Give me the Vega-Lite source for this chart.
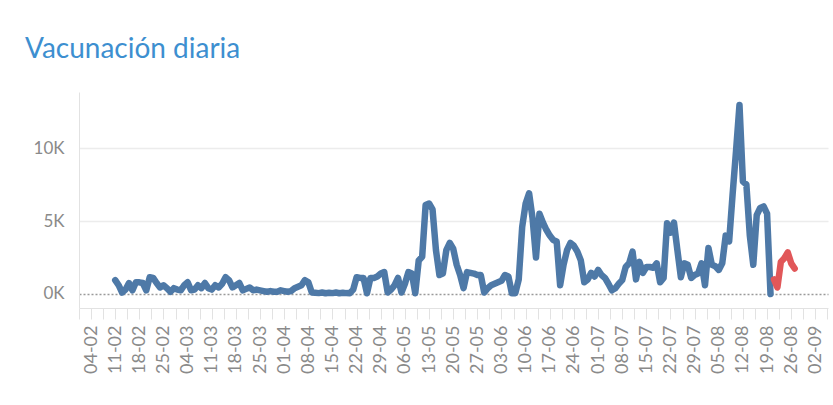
{
  "$schema": "https://vega.github.io/schema/vega-lite/v6.json",
  "autosize": {"type": "none"},
  "width": 749,
  "height": 216,
  "padding": {"left": 79, "top": 92, "right": 5, "bottom": 97},
  "background": "white",
  "title": {"text": "Vacunación diaria", "anchor": "start", "frame": "group", "dx": -54, "offset": 28, "font": "Lato", "fontSize": 28, "fontWeight": "normal", "color": "#3d8fd0"},
  "data": {"values": [
    {"date": "2021-02-11", "v": 950, "s": "a"},
    {"date": "2021-02-12", "v": 600, "s": "a"},
    {"date": "2021-02-13", "v": 100, "s": "a"},
    {"date": "2021-02-14", "v": 300, "s": "a"},
    {"date": "2021-02-15", "v": 750, "s": "a"},
    {"date": "2021-02-16", "v": 250, "s": "a"},
    {"date": "2021-02-17", "v": 800, "s": "a"},
    {"date": "2021-02-18", "v": 800, "s": "a"},
    {"date": "2021-02-19", "v": 750, "s": "a"},
    {"date": "2021-02-20", "v": 250, "s": "a"},
    {"date": "2021-02-21", "v": 1150, "s": "a"},
    {"date": "2021-02-22", "v": 1100, "s": "a"},
    {"date": "2021-02-23", "v": 750, "s": "a"},
    {"date": "2021-02-24", "v": 450, "s": "a"},
    {"date": "2021-02-25", "v": 600, "s": "a"},
    {"date": "2021-02-26", "v": 400, "s": "a"},
    {"date": "2021-02-27", "v": 150, "s": "a"},
    {"date": "2021-02-28", "v": 400, "s": "a"},
    {"date": "2021-03-01", "v": 300, "s": "a"},
    {"date": "2021-03-02", "v": 250, "s": "a"},
    {"date": "2021-03-03", "v": 600, "s": "a"},
    {"date": "2021-03-04", "v": 800, "s": "a"},
    {"date": "2021-03-05", "v": 250, "s": "a"},
    {"date": "2021-03-06", "v": 300, "s": "a"},
    {"date": "2021-03-07", "v": 600, "s": "a"},
    {"date": "2021-03-08", "v": 400, "s": "a"},
    {"date": "2021-03-09", "v": 750, "s": "a"},
    {"date": "2021-03-10", "v": 400, "s": "a"},
    {"date": "2021-03-11", "v": 300, "s": "a"},
    {"date": "2021-03-12", "v": 600, "s": "a"},
    {"date": "2021-03-13", "v": 450, "s": "a"},
    {"date": "2021-03-14", "v": 700, "s": "a"},
    {"date": "2021-03-15", "v": 1150, "s": "a"},
    {"date": "2021-03-16", "v": 950, "s": "a"},
    {"date": "2021-03-17", "v": 450, "s": "a"},
    {"date": "2021-03-18", "v": 600, "s": "a"},
    {"date": "2021-03-19", "v": 750, "s": "a"},
    {"date": "2021-03-20", "v": 250, "s": "a"},
    {"date": "2021-03-21", "v": 350, "s": "a"},
    {"date": "2021-03-22", "v": 450, "s": "a"},
    {"date": "2021-03-23", "v": 250, "s": "a"},
    {"date": "2021-03-24", "v": 300, "s": "a"},
    {"date": "2021-03-25", "v": 250, "s": "a"},
    {"date": "2021-03-26", "v": 200, "s": "a"},
    {"date": "2021-03-27", "v": 150, "s": "a"},
    {"date": "2021-03-28", "v": 200, "s": "a"},
    {"date": "2021-03-29", "v": 150, "s": "a"},
    {"date": "2021-03-30", "v": 150, "s": "a"},
    {"date": "2021-03-31", "v": 250, "s": "a"},
    {"date": "2021-04-01", "v": 200, "s": "a"},
    {"date": "2021-04-02", "v": 150, "s": "a"},
    {"date": "2021-04-03", "v": 200, "s": "a"},
    {"date": "2021-04-04", "v": 400, "s": "a"},
    {"date": "2021-04-05", "v": 500, "s": "a"},
    {"date": "2021-04-06", "v": 600, "s": "a"},
    {"date": "2021-04-07", "v": 950, "s": "a"},
    {"date": "2021-04-08", "v": 800, "s": "a"},
    {"date": "2021-04-09", "v": 100, "s": "a"},
    {"date": "2021-04-10", "v": 80, "s": "a"},
    {"date": "2021-04-11", "v": 60, "s": "a"},
    {"date": "2021-04-12", "v": 100, "s": "a"},
    {"date": "2021-04-13", "v": 50, "s": "a"},
    {"date": "2021-04-14", "v": 80, "s": "a"},
    {"date": "2021-04-15", "v": 60, "s": "a"},
    {"date": "2021-04-16", "v": 100, "s": "a"},
    {"date": "2021-04-17", "v": 50, "s": "a"},
    {"date": "2021-04-18", "v": 80, "s": "a"},
    {"date": "2021-04-19", "v": 60, "s": "a"},
    {"date": "2021-04-20", "v": 50, "s": "a"},
    {"date": "2021-04-21", "v": 300, "s": "a"},
    {"date": "2021-04-22", "v": 1150, "s": "a"},
    {"date": "2021-04-23", "v": 1100, "s": "a"},
    {"date": "2021-04-24", "v": 1100, "s": "a"},
    {"date": "2021-04-25", "v": 50, "s": "a"},
    {"date": "2021-04-26", "v": 1100, "s": "a"},
    {"date": "2021-04-27", "v": 1100, "s": "a"},
    {"date": "2021-04-28", "v": 1200, "s": "a"},
    {"date": "2021-04-29", "v": 1400, "s": "a"},
    {"date": "2021-04-30", "v": 1500, "s": "a"},
    {"date": "2021-05-01", "v": 100, "s": "a"},
    {"date": "2021-05-02", "v": 300, "s": "a"},
    {"date": "2021-05-03", "v": 600, "s": "a"},
    {"date": "2021-05-04", "v": 1100, "s": "a"},
    {"date": "2021-05-05", "v": 100, "s": "a"},
    {"date": "2021-05-06", "v": 700, "s": "a"},
    {"date": "2021-05-07", "v": 1500, "s": "a"},
    {"date": "2021-05-08", "v": 1400, "s": "a"},
    {"date": "2021-05-09", "v": 50, "s": "a"},
    {"date": "2021-05-10", "v": 2300, "s": "a"},
    {"date": "2021-05-11", "v": 2550, "s": "a"},
    {"date": "2021-05-12", "v": 6100, "s": "a"},
    {"date": "2021-05-13", "v": 6200, "s": "a"},
    {"date": "2021-05-14", "v": 5800, "s": "a"},
    {"date": "2021-05-15", "v": 3000, "s": "a"},
    {"date": "2021-05-16", "v": 1300, "s": "a"},
    {"date": "2021-05-17", "v": 1400, "s": "a"},
    {"date": "2021-05-18", "v": 3000, "s": "a"},
    {"date": "2021-05-19", "v": 3500, "s": "a"},
    {"date": "2021-05-20", "v": 3100, "s": "a"},
    {"date": "2021-05-21", "v": 2000, "s": "a"},
    {"date": "2021-05-22", "v": 1300, "s": "a"},
    {"date": "2021-05-23", "v": 400, "s": "a"},
    {"date": "2021-05-24", "v": 1500, "s": "a"},
    {"date": "2021-05-25", "v": 1450, "s": "a"},
    {"date": "2021-05-26", "v": 1400, "s": "a"},
    {"date": "2021-05-27", "v": 1300, "s": "a"},
    {"date": "2021-05-28", "v": 1300, "s": "a"},
    {"date": "2021-05-29", "v": 100, "s": "a"},
    {"date": "2021-05-30", "v": 400, "s": "a"},
    {"date": "2021-05-31", "v": 600, "s": "a"},
    {"date": "2021-06-01", "v": 700, "s": "a"},
    {"date": "2021-06-02", "v": 800, "s": "a"},
    {"date": "2021-06-03", "v": 900, "s": "a"},
    {"date": "2021-06-04", "v": 1300, "s": "a"},
    {"date": "2021-06-05", "v": 1200, "s": "a"},
    {"date": "2021-06-06", "v": 50, "s": "a"},
    {"date": "2021-06-07", "v": 50, "s": "a"},
    {"date": "2021-06-08", "v": 1000, "s": "a"},
    {"date": "2021-06-09", "v": 4600, "s": "a"},
    {"date": "2021-06-10", "v": 6200, "s": "a"},
    {"date": "2021-06-11", "v": 6900, "s": "a"},
    {"date": "2021-06-12", "v": 5200, "s": "a"},
    {"date": "2021-06-13", "v": 2500, "s": "a"},
    {"date": "2021-06-14", "v": 5500, "s": "a"},
    {"date": "2021-06-15", "v": 4900, "s": "a"},
    {"date": "2021-06-16", "v": 4400, "s": "a"},
    {"date": "2021-06-17", "v": 4000, "s": "a"},
    {"date": "2021-06-18", "v": 3700, "s": "a"},
    {"date": "2021-06-19", "v": 3600, "s": "a"},
    {"date": "2021-06-20", "v": 600, "s": "a"},
    {"date": "2021-06-21", "v": 2000, "s": "a"},
    {"date": "2021-06-22", "v": 3000, "s": "a"},
    {"date": "2021-06-23", "v": 3500, "s": "a"},
    {"date": "2021-06-24", "v": 3300, "s": "a"},
    {"date": "2021-06-25", "v": 2900, "s": "a"},
    {"date": "2021-06-26", "v": 2300, "s": "a"},
    {"date": "2021-06-27", "v": 800, "s": "a"},
    {"date": "2021-06-28", "v": 1000, "s": "a"},
    {"date": "2021-06-29", "v": 1450, "s": "a"},
    {"date": "2021-06-30", "v": 1200, "s": "a"},
    {"date": "2021-07-01", "v": 1650, "s": "a"},
    {"date": "2021-07-02", "v": 1300, "s": "a"},
    {"date": "2021-07-03", "v": 1100, "s": "a"},
    {"date": "2021-07-04", "v": 700, "s": "a"},
    {"date": "2021-07-05", "v": 250, "s": "a"},
    {"date": "2021-07-06", "v": 400, "s": "a"},
    {"date": "2021-07-07", "v": 700, "s": "a"},
    {"date": "2021-07-08", "v": 950, "s": "a"},
    {"date": "2021-07-09", "v": 1850, "s": "a"},
    {"date": "2021-07-10", "v": 2100, "s": "a"},
    {"date": "2021-07-11", "v": 2900, "s": "a"},
    {"date": "2021-07-12", "v": 1000, "s": "a"},
    {"date": "2021-07-13", "v": 2200, "s": "a"},
    {"date": "2021-07-14", "v": 1450, "s": "a"},
    {"date": "2021-07-15", "v": 1850, "s": "a"},
    {"date": "2021-07-16", "v": 1850, "s": "a"},
    {"date": "2021-07-17", "v": 1800, "s": "a"},
    {"date": "2021-07-18", "v": 2100, "s": "a"},
    {"date": "2021-07-19", "v": 800, "s": "a"},
    {"date": "2021-07-20", "v": 1100, "s": "a"},
    {"date": "2021-07-21", "v": 4850, "s": "a"},
    {"date": "2021-07-22", "v": 4200, "s": "a"},
    {"date": "2021-07-23", "v": 4900, "s": "a"},
    {"date": "2021-07-24", "v": 3000, "s": "a"},
    {"date": "2021-07-25", "v": 1150, "s": "a"},
    {"date": "2021-07-26", "v": 2100, "s": "a"},
    {"date": "2021-07-27", "v": 2000, "s": "a"},
    {"date": "2021-07-28", "v": 1100, "s": "a"},
    {"date": "2021-07-29", "v": 1300, "s": "a"},
    {"date": "2021-07-30", "v": 1400, "s": "a"},
    {"date": "2021-07-31", "v": 2100, "s": "a"},
    {"date": "2021-08-01", "v": 600, "s": "a"},
    {"date": "2021-08-02", "v": 3150, "s": "a"},
    {"date": "2021-08-03", "v": 2000, "s": "a"},
    {"date": "2021-08-04", "v": 1900, "s": "a"},
    {"date": "2021-08-05", "v": 1650, "s": "a"},
    {"date": "2021-08-06", "v": 2100, "s": "a"},
    {"date": "2021-08-07", "v": 4000, "s": "a"},
    {"date": "2021-08-08", "v": 3600, "s": "a"},
    {"date": "2021-08-09", "v": 6800, "s": "a"},
    {"date": "2021-08-10", "v": 9800, "s": "a"},
    {"date": "2021-08-11", "v": 12950, "s": "a"},
    {"date": "2021-08-12", "v": 7700, "s": "a"},
    {"date": "2021-08-13", "v": 7500, "s": "a"},
    {"date": "2021-08-14", "v": 4000, "s": "a"},
    {"date": "2021-08-15", "v": 2000, "s": "a"},
    {"date": "2021-08-16", "v": 5400, "s": "a"},
    {"date": "2021-08-17", "v": 5900, "s": "a"},
    {"date": "2021-08-18", "v": 6000, "s": "a"},
    {"date": "2021-08-19", "v": 5500, "s": "a"},
    {"date": "2021-08-20", "v": 0, "s": "a"},
    {"date": "2021-08-21", "v": 1000, "s": "b"},
    {"date": "2021-08-22", "v": 450, "s": "b"},
    {"date": "2021-08-23", "v": 2200, "s": "b"},
    {"date": "2021-08-24", "v": 2450, "s": "b"},
    {"date": "2021-08-25", "v": 2850, "s": "b"},
    {"date": "2021-08-26", "v": 2100, "s": "b"},
    {"date": "2021-08-27", "v": 1750, "s": "b"}
  ]},
  "mark": {"type": "line", "strokeWidth": 6.5, "strokeCap": "round", "strokeJoin": "round"},
  "encoding": {
    "x": {
      "field": "date",
      "type": "temporal",
      "scale": {"type": "utc", "domain": [
        {"year": 2021, "month": 1, "date": 31, "hours": 12, "utc": true},
        {"year": 2021, "month": 9, "date": 5, "hours": 16, "utc": true}
      ]},
      "axis": {
        "title": null,
        "labelExpr": "utchours(datum.value) === 12 ? '' : utcFormat(datum.value, '%d-%m')",
        "values": [
          {"year": 2021, "month": 1, "date": 31, "hours": 12, "utc": true},
          {"year": 2021, "month": 2, "date": 4, "utc": true},
          {"year": 2021, "month": 2, "date": 7, "hours": 12, "utc": true},
          {"year": 2021, "month": 2, "date": 11, "utc": true},
          {"year": 2021, "month": 2, "date": 14, "hours": 12, "utc": true},
          {"year": 2021, "month": 2, "date": 18, "utc": true},
          {"year": 2021, "month": 2, "date": 21, "hours": 12, "utc": true},
          {"year": 2021, "month": 2, "date": 25, "utc": true},
          {"year": 2021, "month": 2, "date": 28, "hours": 12, "utc": true},
          {"year": 2021, "month": 3, "date": 4, "utc": true},
          {"year": 2021, "month": 3, "date": 7, "hours": 12, "utc": true},
          {"year": 2021, "month": 3, "date": 11, "utc": true},
          {"year": 2021, "month": 3, "date": 14, "hours": 12, "utc": true},
          {"year": 2021, "month": 3, "date": 18, "utc": true},
          {"year": 2021, "month": 3, "date": 21, "hours": 12, "utc": true},
          {"year": 2021, "month": 3, "date": 25, "utc": true},
          {"year": 2021, "month": 3, "date": 28, "hours": 12, "utc": true},
          {"year": 2021, "month": 4, "date": 1, "utc": true},
          {"year": 2021, "month": 4, "date": 4, "hours": 12, "utc": true},
          {"year": 2021, "month": 4, "date": 8, "utc": true},
          {"year": 2021, "month": 4, "date": 11, "hours": 12, "utc": true},
          {"year": 2021, "month": 4, "date": 15, "utc": true},
          {"year": 2021, "month": 4, "date": 18, "hours": 12, "utc": true},
          {"year": 2021, "month": 4, "date": 22, "utc": true},
          {"year": 2021, "month": 4, "date": 25, "hours": 12, "utc": true},
          {"year": 2021, "month": 4, "date": 29, "utc": true},
          {"year": 2021, "month": 5, "date": 2, "hours": 12, "utc": true},
          {"year": 2021, "month": 5, "date": 6, "utc": true},
          {"year": 2021, "month": 5, "date": 9, "hours": 12, "utc": true},
          {"year": 2021, "month": 5, "date": 13, "utc": true},
          {"year": 2021, "month": 5, "date": 16, "hours": 12, "utc": true},
          {"year": 2021, "month": 5, "date": 20, "utc": true},
          {"year": 2021, "month": 5, "date": 23, "hours": 12, "utc": true},
          {"year": 2021, "month": 5, "date": 27, "utc": true},
          {"year": 2021, "month": 5, "date": 30, "hours": 12, "utc": true},
          {"year": 2021, "month": 6, "date": 3, "utc": true},
          {"year": 2021, "month": 6, "date": 6, "hours": 12, "utc": true},
          {"year": 2021, "month": 6, "date": 10, "utc": true},
          {"year": 2021, "month": 6, "date": 13, "hours": 12, "utc": true},
          {"year": 2021, "month": 6, "date": 17, "utc": true},
          {"year": 2021, "month": 6, "date": 20, "hours": 12, "utc": true},
          {"year": 2021, "month": 6, "date": 24, "utc": true},
          {"year": 2021, "month": 6, "date": 27, "hours": 12, "utc": true},
          {"year": 2021, "month": 7, "date": 1, "utc": true},
          {"year": 2021, "month": 7, "date": 4, "hours": 12, "utc": true},
          {"year": 2021, "month": 7, "date": 8, "utc": true},
          {"year": 2021, "month": 7, "date": 11, "hours": 12, "utc": true},
          {"year": 2021, "month": 7, "date": 15, "utc": true},
          {"year": 2021, "month": 7, "date": 18, "hours": 12, "utc": true},
          {"year": 2021, "month": 7, "date": 22, "utc": true},
          {"year": 2021, "month": 7, "date": 25, "hours": 12, "utc": true},
          {"year": 2021, "month": 7, "date": 29, "utc": true},
          {"year": 2021, "month": 8, "date": 1, "hours": 12, "utc": true},
          {"year": 2021, "month": 8, "date": 5, "utc": true},
          {"year": 2021, "month": 8, "date": 8, "hours": 12, "utc": true},
          {"year": 2021, "month": 8, "date": 12, "utc": true},
          {"year": 2021, "month": 8, "date": 15, "hours": 12, "utc": true},
          {"year": 2021, "month": 8, "date": 19, "utc": true},
          {"year": 2021, "month": 8, "date": 22, "hours": 12, "utc": true},
          {"year": 2021, "month": 8, "date": 26, "utc": true},
          {"year": 2021, "month": 8, "date": 29, "hours": 12, "utc": true},
          {"year": 2021, "month": 9, "date": 2, "utc": true},
          {"year": 2021, "month": 9, "date": 5, "hours": 12, "utc": true}
        ],
        "labelAngle": 270,
        "labelOverlap": false,
        "labelFlush": false,
        "labelFont": "Lato",
        "labelFontSize": 18,
        "labelColor": "#8a8a8a",
        "labelPadding": 6,
        "tickColor": "#e2e2e2",
        "tickSize": 11,
        "domainColor": "#e2e2e2",
        "grid": false
      }
    },
    "y": {
      "field": "v",
      "type": "quantitative",
      "scale": {"domain": [-960, 13840], "nice": false, "zero": false},
      "axis": {
        "title": null,
        "values": [0, 5000, 10000],
        "labelExpr": "format(datum.value / 1000, 'd') + 'K'",
        "ticks": false,
        "labelPadding": 15,
        "labelFont": "Lato",
        "labelFontSize": 17,
        "labelColor": "#8a8a8a",
        "domainColor": "#e2e2e2",
        "gridColor": {"condition": {"test": "datum.value === 0", "value": "#9a9a9a"}, "value": "#ececec"},
        "gridDash": {"condition": {"test": "datum.value === 0", "value": [2, 2]}, "value": []},
        "gridWidth": 1.5
      }
    },
    "color": {"field": "s", "type": "nominal", "scale": {"domain": ["a", "b"], "range": ["#4e79a7", "#e15759"]}, "legend": null}
  },
  "config": {"view": {"stroke": null}}
}
